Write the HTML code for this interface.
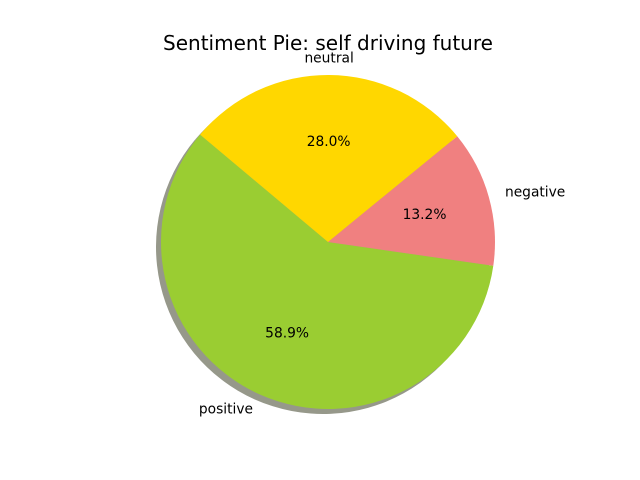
<!DOCTYPE html>
<html><head><meta charset="utf-8"><style>
body{margin:0;background:#fff;}
svg{display:block;font-family:"DejaVu Sans","Liberation Sans",sans-serif;}
</style></head><body>
<svg id="chart" width="640" height="480">
<rect width="640" height="480" fill="#fff"/>
<text x="328" y="50" text-anchor="middle" font-size="20" fill="#000">Sentiment Pie: self driving future</text>
</svg>
<script>
const categories = ["positive", "negative", "neutral"];
const values = [58.9, 13.2, 28.0];
const colors = ["#9acd32", "#f08080", "#ffd700"];
const shadowColors = ["#96988a", "#a09898", "#a09e88"];
const startAngle = 140;
const cx = 328, cy = 242, r = 167;
const svg = document.getElementById('chart');
const NS = 'http://www.w3.org/2000/svg';
const total = values.reduce((a,b)=>a+b,0);
function pt(deg, rad, ox, oy){ const a=deg*Math.PI/180; return [ox+rad*Math.cos(a), oy-rad*Math.sin(a)]; }
function wedgePath(a0,a1,ox,oy){
  const p0=pt(a0,r,ox,oy), p1=pt(a1,r,ox,oy);
  const large=(a1-a0)>180?1:0;
  return `M${ox},${oy} L${p0[0]},${p0[1]} A${r},${r} 0 ${large} 0 ${p1[0]},${p1[1]} Z`;
}
let a=startAngle;
values.forEach((v,i)=>{
  const span=v/total*360;
  const s=document.createElementNS(NS,'path');
  s.setAttribute('d',wedgePath(a,a+span,cx-5,cy+5));
  s.setAttribute('fill',shadowColors[i]);
  
  
  svg.appendChild(s);
  a+=span;
});
a=startAngle;
values.forEach((v,i)=>{
  const span=v/total*360;
  const p=document.createElementNS(NS,'path');
  p.setAttribute('d',wedgePath(a,a+span,cx,cy));
  p.setAttribute('fill',colors[i]);
  
  
  svg.appendChild(p);
  const mid=a+span/2;
  const lp=pt(mid,r*1.1,cx,cy);
  const t=document.createElementNS(NS,'text');
  const c=Math.cos(mid*Math.PI/180);
  t.setAttribute('x',lp[0]); t.setAttribute('y',lp[1]+4);
  t.setAttribute('text-anchor', c>0.01?'start':(c<-0.01?'end':'middle'));
  t.setAttribute('font-size','13.8');
  t.textContent=categories[i];
  
  
  svg.appendChild(t);
  const pp=pt(mid,r*0.6,cx,cy);
  const t2=document.createElementNS(NS,'text');
  t2.setAttribute('x',pp[0]); t2.setAttribute('y',pp[1]+4);
  t2.setAttribute('text-anchor','middle');
  t2.setAttribute('font-size','13.8');
  t2.textContent=v.toFixed(1)+'%';
  
  
  svg.appendChild(t2);
  a+=span;
});
</script>
</body></html>
